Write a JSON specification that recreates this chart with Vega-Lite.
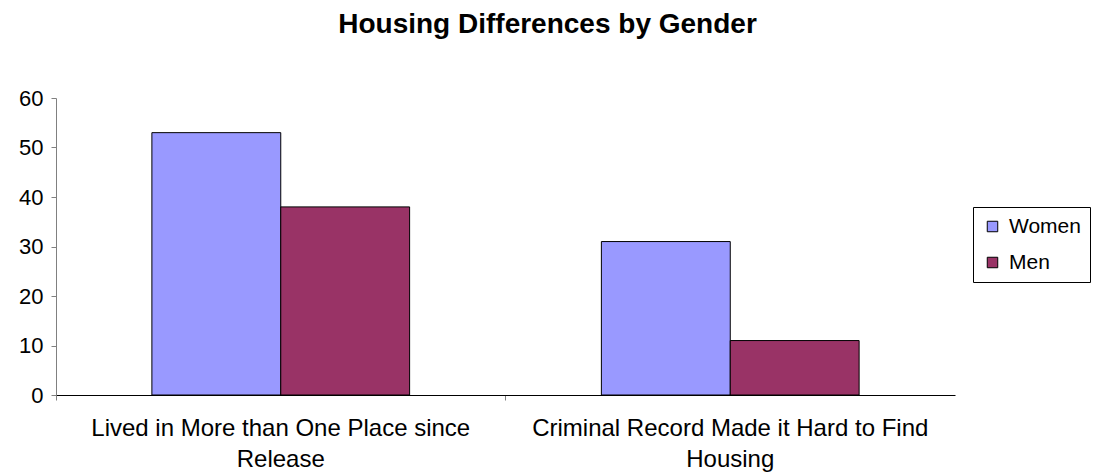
{
  "$schema": "https://vega.github.io/schema/vega-lite/v6.json",
  "autosize": "none",
  "width": 899,
  "height": 297,
  "padding": {"left": 56, "top": 98, "right": 141, "bottom": 79},
  "background": "white",
  "title": {
    "text": "Housing Differences by Gender",
    "font": "Liberation Sans",
    "fontSize": 28,
    "fontWeight": "bold",
    "color": "black",
    "anchor": "middle",
    "dx": 42,
    "offset": 48
  },
  "data": {
    "values": [
      {"category": "Lived in More than One Place since Release", "gender": "Women", "value": 53},
      {"category": "Lived in More than One Place since Release", "gender": "Men", "value": 38},
      {"category": "Criminal Record Made it Hard to Find Housing", "gender": "Women", "value": 31},
      {"category": "Criminal Record Made it Hard to Find Housing", "gender": "Men", "value": 11}
    ]
  },
  "config": {
    "view": {"stroke": null},
    "font": "Liberation Sans"
  },
  "mark": {"type": "bar", "stroke": "black", "strokeWidth": 1},
  "encoding": {
    "x": {
      "field": "category",
      "type": "nominal",
      "sort": null,
      "scale": {"paddingInner": 0, "paddingOuter": 0},
      "axis": {
        "title": null,
        "labelAngle": 0,
        "bandPosition": 0,
        "labelFont": "Liberation Sans",
        "labelFontSize": 24,
        "labelColor": "black",
        "labelLineHeight": 31,
        "labelPadding": 16,
        "labelLimit": 0,
        "labelExpr": "datum.value == 'Lived in More than One Place since Release' ? ['Lived in More than One Place since', 'Release'] : ['Criminal Record Made it Hard to Find', 'Housing']",
        "domainColor": "black",
        "tickColor": "#808080",
        "tickSize": 5,
        "labelBound": false,
        "labelOverlap": false
      }
    },
    "xOffset": {
      "field": "gender",
      "sort": ["Women", "Men"],
      "scale": {"paddingInner": 0, "paddingOuter": 0.744}
    },
    "y": {
      "field": "value",
      "type": "quantitative",
      "scale": {"domain": [0, 60]},
      "axis": {
        "title": null,
        "values": [0, 10, 20, 30, 40, 50, 60],
        "grid": false,
        "labelFont": "Liberation Sans",
        "labelFontSize": 22,
        "labelColor": "black",
        "labelPadding": 8,
        "domainColor": "#808080",
        "tickColor": "#808080",
        "tickSize": 5
      }
    },
    "color": {
      "field": "gender",
      "sort": ["Women", "Men"],
      "scale": {"domain": ["Women", "Men"], "range": ["#9999FF", "#993366"]},
      "legend": {
        "title": null,
        "orient": "none",
        "legendX": 917,
        "legendY": 109,
        "strokeColor": "black",
        "padding": 9,
        "symbolType": "square",
        "symbolSize": 110,
        "symbolStrokeColor": "black",
        "symbolStrokeWidth": 1,
        "labelFont": "Liberation Sans",
        "labelFontSize": 21,
        "labelColor": "black",
        "rowPadding": 14,
        "labelOffset": 6
      }
    }
  }
}
